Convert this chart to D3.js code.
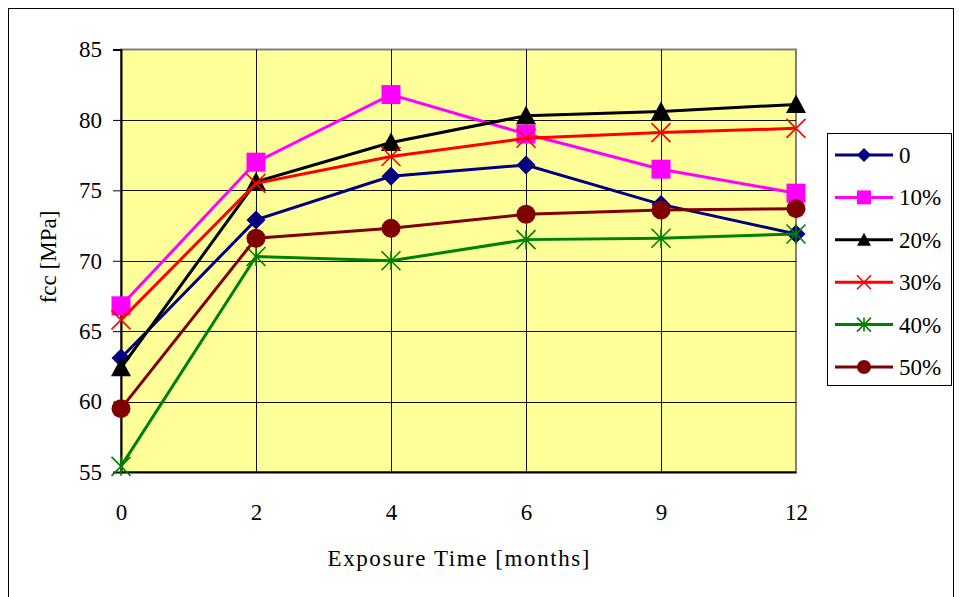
<!DOCTYPE html>
<html>
<head>
<meta charset="utf-8">
<script src="https://cdn.jsdelivr.net/npm/d3@7"></script>
<style>
  body { margin: 0; background: #fff; }
  svg text { font-family: "Liberation Serif", "Times New Roman", Times, "DejaVu Serif", serif !important; fill: #000; }
</style>
</head>
<body>
<div id="chart"></div>
<script>
let months = ["0", "2", "4", "6", "9", "12"]
let yTicks = [55, 60, 65, 70, 75, 80, 85]
let seriesNames = ["0", "10%", "20%", "30%", "40%", "50%"]
let s0 = [63.1, 72.9, 76.0, 76.8, 74.0, 71.9]
let s10 = [66.8, 77.0, 81.8, 79.0, 76.5, 74.8]
let s20 = [62.4, 75.6, 78.4, 80.3, 80.6, 81.1]
let s30 = [65.8, 75.5, 77.4, 78.7, 79.1, 79.4]
let s40 = [55.4, 70.3, 70.0, 71.5, 71.6, 71.9]
let s50 = [59.5, 71.6, 72.3, 73.3, 73.6, 73.7]
let colors = ["#000080", "#ff00ff", "#000000", "#ff0000", "#008000", "#800000"]
let markers = ["diamond", "square", "triangle", "x", "star", "circle"]

let allValues = [s0, s10, s20, s30, s40, s50]
let series = seriesNames.map((name, i) => ({ name: name, values: allValues[i], color: colors[i], marker: markers[i] }))

let width = 959
let height = 597
let plotLeft = 121, plotRight = 796, plotTop = 49.5, plotBottom = 472
let serif = "'Liberation Serif', 'Times New Roman', Times, serif"

let svg = d3.select("#chart")
    .append("svg")
    .attr("width", width)
    .attr("height", height)
    .attr("font-family", serif)

// outer frame
svg.append("rect")
    .attr("x", 8.5).attr("y", 8.5)
    .attr("width", 945).attr("height", 620)
    .attr("fill", "#fff")
    .attr("stroke", "#000")
    .attr("stroke-width", 1)

let x = d3.scalePoint().domain(months).range([plotLeft, plotRight])
let y = d3.scaleLinear().domain([55, 85]).range([plotBottom, plotTop])

// plot area
svg.append("rect")
    .attr("x", plotLeft).attr("y", plotTop)
    .attr("width", plotRight - plotLeft).attr("height", plotBottom - plotTop)
    .attr("fill", "#ffff99")
    .attr("stroke", "#808080")
    .attr("stroke-width", 2)

// grid
svg.append("g")
    .selectAll("line")
    .data(yTicks.slice(1, -1))
    .enter()
    .append("line")
    .attr("x1", plotLeft).attr("x2", plotRight)
    .attr("y1", d => Math.round(y(d)) + 0.5).attr("y2", d => Math.round(y(d)) + 0.5)
    .attr("stroke", "#111")
    .attr("stroke-width", 1)
svg.append("g")
    .selectAll("line")
    .data(months.slice(1, -1))
    .enter()
    .append("line")
    .attr("x1", d => Math.round(x(d)) + 0.5).attr("x2", d => Math.round(x(d)) + 0.5)
    .attr("y1", plotTop).attr("y2", plotBottom)
    .attr("stroke", "#111")
    .attr("stroke-width", 1)

// axes
let yAxis = svg.append("g")
    .attr("transform", "translate(" + plotLeft + ",0)")
    .call(d3.axisLeft(y).tickValues(yTicks).tickSize(8).tickPadding(11))
yAxis.attr("font-family", serif).attr("font-size", 23)
yAxis.select(".domain").attr("stroke", "#000").attr("stroke-width", 2)
yAxis.selectAll("text").attr("fill", "#000")

let xAxis = svg.append("g")
    .attr("transform", "translate(0," + plotBottom + ")")
    .call(d3.axisBottom(x).tickSize(0).tickPadding(32))
xAxis.attr("font-family", serif).attr("font-size", 23)
xAxis.select(".domain").attr("stroke", "#000").attr("stroke-width", 2)
xAxis.selectAll("text").attr("fill", "#000")

// axis titles
svg.append("text")
    .attr("x", (plotLeft + plotRight) / 2)
    .attr("y", 566)
    .attr("text-anchor", "middle")
    .attr("font-size", 23)
    .attr("textLength", 262)
    .attr("lengthAdjust", "spacing")
    .text("Exposure Time  [months]")
svg.append("text")
    .attr("transform", "translate(56," + 257 + ") rotate(-90)")
    .attr("text-anchor", "middle")
    .attr("font-size", 23)
    .text("fcc [MPa]")

function markerPath(type, s) {
    let h = s / 2
    if (type === "diamond") return `M0,${-h}L${h},0L0,${h}L${-h},0Z`
    if (type === "square") return `M${-h},${-h}H${h}V${h}H${-h}Z`
    if (type === "triangle") return `M0,${-h}L${h},${h * 0.85}L${-h},${h * 0.85}Z`
    if (type === "circle") return d3.symbol().type(d3.symbolCircle).size(Math.PI * h * h)()
    if (type === "x") return `M${-h},${-h}L${h},${h}M${h},${-h}L${-h},${h}`
    if (type === "star") return `M${-h},${-h}L${h},${h}M${h},${-h}L${-h},${h}M0,${-h}V${h}`
}

function drawMarker(g, d, size, cx, cy) {
    let filled = d.marker !== "x" && d.marker !== "star"
    g.append("path")
        .attr("d", markerPath(d.marker, size))
        .attr("transform", "translate(" + cx + "," + cy + ")")
        .attr("fill", filled ? d.color : "none")
        .attr("stroke", d.color)
        .attr("stroke-width", filled ? 0 : 1.6)
}

let line = d3.line()
    .x((v, i) => x(months[i]))
    .y(v => y(v))

series.forEach(d => {
    let g = svg.append("g")
    g.append("path")
        .attr("d", line(d.values))
        .attr("fill", "none")
        .attr("stroke", d.color)
        .attr("stroke-width", 3)
    d.values.forEach((v, i) => {
        drawMarker(g, d, d.marker === "triangle" ? 20 : 19, x(months[i]), y(v))
    })
})

// legend
let legend = svg.append("g")
legend.append("rect")
    .attr("x", 827.5).attr("y", 133.5)
    .attr("width", 124).attr("height", 252)
    .attr("fill", "#fff")
    .attr("stroke", "#000")
    .attr("stroke-width", 1)
series.forEach((d, i) => {
    let ly = 155 + i * 42.4
    legend.append("line")
        .attr("x1", 835).attr("x2", 893)
        .attr("y1", ly).attr("y2", ly)
        .attr("stroke", d.color)
        .attr("stroke-width", 3)
    drawMarker(legend, d, 14, 864, ly)
    legend.append("text")
        .attr("x", 899)
        .attr("y", ly + 8)
        .attr("font-size", 23)
        .text(d.name)
})
</script>
</body>
</html>
